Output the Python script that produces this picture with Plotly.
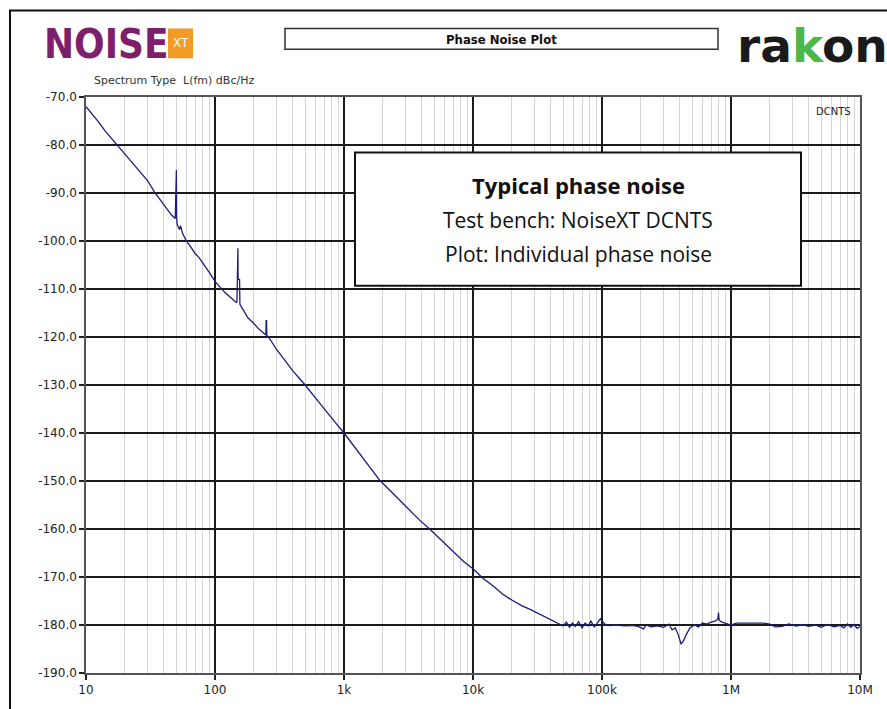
import plotly.graph_objects as go

# ---- data ----
freq_hz = [
    10, 11, 12.5, 14, 16, 18, 20, 23, 26, 30, 34, 38, 42, 46, 49.2, 49.6, 49.8, 50.2, 50.4, 50.8,
    53, 54, 56, 60, 65, 70, 75, 80, 90, 100, 110, 120, 135, 146, 148, 149, 150.5, 151, 155, 156,
    165, 180, 200, 220, 245, 248, 249, 251, 252, 260, 300, 350, 400, 450, 500, 600, 700, 800, 900,
    1000, 1350, 1600, 1900, 2400, 3000, 3800, 4700, 5800, 7000, 8500, 10000, 12000, 14500, 17000,
    20000, 24000, 28000, 33000, 38000, 43000, 47000, 50000, 53000, 56000, 59000, 62000, 66000,
    70000, 74000, 78000, 82000, 87000, 92000, 97000, 100000, 105000, 115000, 130000, 150000,
    170000, 190000, 210000, 220000, 240000, 270000, 300000, 330000, 350000, 370000, 390000,
    410000, 430000, 450000, 480000, 520000, 560000, 600000, 650000, 700000, 750000, 790000,
    800000, 810000, 850000, 900000, 950000, 1000000, 1100000, 1300000, 1500000, 1800000,
    2000000, 2200000, 2500000, 2800000, 3200000, 3600000, 4000000, 4500000, 5000000, 5600000,
    6300000, 7000000, 7500000, 8000000, 8500000, 9000000, 9500000, 10000000,
]
phase_noise_dbc = [
    -72.0, -73.3, -75.2, -77.0, -78.8, -80.5, -81.8, -83.6, -85.4, -87.4, -89.8, -91.6, -93.3, -94.6, -95.3, -92.0, -85.2, -85.2, -94.5, -96.5,
    -97.6, -96.8, -98.4, -100.0, -101.3, -102.6, -103.4, -104.6, -106.5, -108.4, -109.6, -110.8, -112.0, -112.8, -112.7, -101.5, -101.5, -108.0, -108.0, -113.2,
    -114.2, -116.0, -117.2, -118.4, -119.5, -119.6, -116.6, -116.6, -119.7, -120.0, -122.6, -125.0, -127.0, -128.6, -130.0, -132.7, -135.0, -136.8, -138.5,
    -140.0, -144.6, -147.2, -149.9, -152.6, -155.2, -158.0, -160.2, -162.6, -164.8, -166.8, -168.3, -170.3, -172.0, -173.6,
    -174.8, -176.0, -176.8, -177.8, -178.6, -179.3, -179.8, -180.2, -179.4, -180.5, -179.6, -180.3, -179.3,
    -180.6, -179.6, -180.2, -179.2, -180.4, -179.6, -178.7, -179.2, -179.8, -180.1, -180.0, -180.2,
    -180.1, -180.3, -180.8, -180.0, -180.4, -180.2, -180.5, -179.8, -181.0, -180.6, -182.0,
    -184.0, -183.2, -182.0, -180.6, -180.0, -180.4, -179.6, -179.8, -179.4, -179.2, -178.8,
    -177.4, -179.0, -179.4, -179.6, -179.8, -180.0, -179.6, -179.6, -179.5, -179.6,
    -179.8, -180.4, -180.3, -179.8, -180.2, -179.9, -180.3, -180.0, -180.5, -179.9,
    -180.4, -180.1, -180.6, -179.8, -180.5, -179.9, -180.7, -180.3,
]
x_tick_vals = [10, 100, 1e3, 1e4, 1e5, 1e6, 1e7]
x_tick_text = ["10", "100", "1k", "10k", "100k", "1M", "10M"]
y_tick_vals = [-190, -180, -170, -160, -150, -140, -130, -120, -110, -100, -90, -80, -70]
y_tick_text = ["-190.0", "-180.0", "-170.0", "-160.0", "-150.0", "-140.0", "-130.0",
               "-120.0", "-110.0", "-100.0", "-90.0", "-80.0", "-70.0"]
x_minor_vals = [k * 10 ** n for n in range(1, 7) for k in range(2, 10)]

W, H = 887, 709
L, R, T, B = 86, 27, 97, 32
PW, PH = W - L - R, H - T - B


def px(x):
    return (x - L) / PW


def py(y):
    return (H - B - y) / PH


fig = go.Figure()
fig.add_trace(go.Scatter(
    x=freq_hz, y=phase_noise_dbc, mode="lines",
    line=dict(color="#1c1c7a", width=1.3), showlegend=False,
))

tick_font = dict(family="DejaVu Sans", size=12, color="#222")

fig.update_xaxes(
    type="log", range=[1, 7],
    tickmode="array", tickvals=x_tick_vals, ticktext=x_tick_text,
    ticks="outside", ticklen=5, tickcolor="#222", tickwidth=1.5,
    showgrid=True, gridcolor="#1a1a1a", gridwidth=1.5,
    minor=dict(tickmode="array", tickvals=x_minor_vals, showgrid=True,
               gridcolor="#d4d4d4", gridwidth=1, ticks=""),
    showline=True, linecolor="#555", linewidth=1.5, mirror=True,
    tickfont=tick_font, zeroline=False,
)
fig.update_yaxes(
    range=[-190, -70],
    tickmode="array", tickvals=y_tick_vals, ticktext=y_tick_text,
    ticks="outside", ticklen=5, tickcolor="#222", tickwidth=1.5,
    showgrid=True, gridcolor="#1a1a1a", gridwidth=1.5,
    showline=True, linecolor="#555", linewidth=1.5, mirror=True,
    tickfont=tick_font, zeroline=False,
)

shapes = [
    # outer frame
    dict(type="rect", xref="paper", yref="paper", x0=px(10), x1=px(905), y0=py(725), y1=py(10),
         line=dict(color="#111", width=2), fillcolor="rgba(0,0,0,0)", layer="above"),
    # XT box
    dict(type="rect", xref="paper", yref="paper", x0=px(168), x1=px(193), y0=py(58), y1=py(28),
         line=dict(width=0), fillcolor="#f29b26"),
    # title box
    dict(type="rect", xref="paper", yref="paper", x0=px(285), x1=px(718), y0=py(49), y1=py(28),
         line=dict(color="#333", width=1.5), fillcolor="white"),
    # legend box
    dict(type="rect", xref="paper", yref="paper", x0=px(355), x1=px(801), y0=py(287), y1=py(153),
         line=dict(color="#111", width=2), fillcolor="white", layer="above"),
]

annotations = [
    dict(text="<b>NOISE</b>", x=px(42), y=py(44), xanchor="left", yanchor="middle",
         font=dict(family="DejaVu Sans Condensed, sans-serif", size=40, color="#7d1f6b")),
    dict(text="XT", x=px(180.5), y=py(43), xanchor="center", yanchor="middle",
         font=dict(family="DejaVu Sans", size=12, color="white")),
    dict(text="<b>Phase Noise Plot</b>", x=px(501), y=py(39), xanchor="center", yanchor="middle",
         font=dict(family="DejaVu Sans Condensed, DejaVu Sans", size=13, color="#111")),
    dict(text="<b>ra<span style='color:#4cb848'>k</span>on</b>", x=px(735), y=py(45),
         xanchor="left", yanchor="middle",
         font=dict(family="DejaVu Sans", size=47, color="#1a1a1a")),
    dict(text="Spectrum Type  L(fm) dBc/Hz", x=px(92), y=py(80), xanchor="left", yanchor="middle",
         font=dict(family="DejaVu Sans", size=11, color="#333")),
    dict(text="DCNTS", x=px(853), y=py(112), xanchor="right", yanchor="middle",
         font=dict(family="DejaVu Sans", size=10, color="#222")),
    dict(text="<b>Typical phase noise</b>", x=px(578), y=py(186), xanchor="center", yanchor="middle",
         font=dict(family="Open Sans", size=22, color="#111")),
    dict(text="Test bench: NoiseXT DCNTS", x=px(578), y=py(221), xanchor="center", yanchor="middle",
         font=dict(family="Open Sans", size=21, color="#111")),
    dict(text="Plot: Individual phase noise", x=px(578), y=py(255), xanchor="center", yanchor="middle",
         font=dict(family="Open Sans", size=21, color="#111")),
]
for a in annotations:
    a.update(xref="paper", yref="paper", showarrow=False)

fig.update_layout(
    width=W, height=H,
    margin=dict(l=L, r=R, t=T, b=B, pad=0),
    paper_bgcolor="white", plot_bgcolor="white",
    shapes=shapes, annotations=annotations,
)

fig.write_html("out.html", config={"displayModeBar": False},
               post_script="document.body.style.margin='0';document.body.style.overflow='hidden';")
